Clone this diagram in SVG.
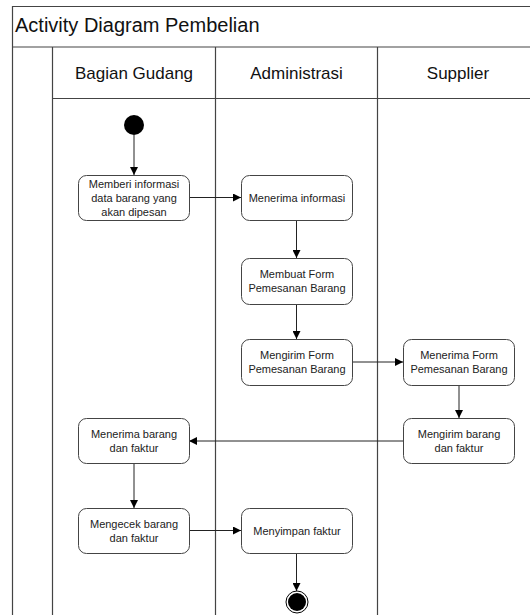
<svg xmlns="http://www.w3.org/2000/svg" width="530" height="615" viewBox="0 0 530 615">
<defs>
<style>
.frame{fill:none;stroke:#444;stroke-width:1.2}
.node rect{fill:#fff;stroke:#444;stroke-width:1}
.node text{font-family:"Liberation Sans",Arial,sans-serif;font-size:11px;fill:#222;text-anchor:middle}
.hdr{font-family:"Liberation Sans",Arial,sans-serif;font-size:17px;fill:#111;text-anchor:middle}
.title{font-family:"Liberation Sans",Arial,sans-serif;font-size:20px;fill:#111}
.conn line{stroke:#222;stroke-width:1;marker-end:url(#arr)}
</style>
<marker id="arr" viewBox="0 0 10 10" refX="10" refY="5" markerWidth="8" markerHeight="8" markerUnits="userSpaceOnUse" orient="auto">
<path d="M0,0 L10,5 L0,10 z" fill="#000"/>
</marker>
</defs>
<rect x="0" y="0" width="530" height="615" fill="#fff"/>
<g id="frame">
<path class="frame" d="M12.5,620 V6.5 H540"/>
<line class="frame" x1="12.5" y1="47" x2="540" y2="47"/>
<line class="frame" x1="52.5" y1="47" x2="52.5" y2="620"/>
<line class="frame" x1="52.5" y1="98.5" x2="540" y2="98.5"/>
<line class="frame" x1="215.5" y1="47" x2="215.5" y2="620"/>
<line class="frame" x1="377.5" y1="47" x2="377.5" y2="620"/>
<text class="title" x="15" y="32">Activity Diagram Pembelian</text>
<text class="hdr" x="134" y="79">Bagian Gudang</text>
<text class="hdr" x="296.5" y="79">Administrasi</text>
<text class="hdr" x="458" y="79">Supplier</text>
</g>
<g id="connectors" class="conn">
<line x1="134" y1="135" x2="134" y2="175"/>
<line x1="189" y1="197.5" x2="241" y2="197.5"/>
<line x1="296.5" y1="220" x2="296.5" y2="258"/>
<line x1="296.5" y1="304" x2="296.5" y2="339"/>
<line x1="352" y1="362" x2="403" y2="362"/>
<line x1="459" y1="385" x2="459" y2="418"/>
<line x1="403" y1="441" x2="189" y2="441"/>
<line x1="134" y1="464" x2="134" y2="508"/>
<line x1="189" y1="530.5" x2="241" y2="530.5"/>
<line x1="296.5" y1="553" x2="296.5" y2="591"/>
</g>
<g id="start"><circle cx="134" cy="125" r="10" fill="#000"/></g>
<g id="n1" class="node"><rect x="78.5" y="175.5" width="111" height="45" rx="8"/>
<text x="134" y="187.5">Memberi informasi</text><text x="134" y="201.5">data barang yang</text><text x="134" y="215.5">akan dipesan</text></g>
<g id="n2" class="node"><rect x="241.5" y="175.5" width="111" height="45" rx="8"/>
<text x="297" y="201.5">Menerima informasi</text></g>
<g id="n3" class="node"><rect x="241.5" y="258.5" width="111" height="46" rx="8"/>
<text x="297" y="278">Membuat Form</text><text x="297" y="292">Pemesanan Barang</text></g>
<g id="n4" class="node"><rect x="241.5" y="339.5" width="111" height="46" rx="8"/>
<text x="297" y="359">Mengirim Form</text><text x="297" y="373">Pemesanan Barang</text></g>
<g id="n5" class="node"><rect x="403.5" y="339.5" width="111" height="46" rx="8"/>
<text x="459" y="359">Menerima Form</text><text x="459" y="373">Pemesanan Barang</text></g>
<g id="n6" class="node"><rect x="403.5" y="418.5" width="111" height="45" rx="8"/>
<text x="459" y="438">Mengirim barang</text><text x="459" y="452">dan faktur</text></g>
<g id="n7" class="node"><rect x="78.5" y="418.5" width="111" height="45" rx="8"/>
<text x="134" y="438">Menerima barang</text><text x="134" y="452">dan faktur</text></g>
<g id="n8" class="node"><rect x="78.5" y="508.5" width="111" height="45" rx="8"/>
<text x="134" y="528">Mengecek barang</text><text x="134" y="542">dan faktur</text></g>
<g id="n9" class="node"><rect x="241.5" y="508.5" width="111" height="45" rx="8"/>
<text x="297" y="534.5">Menyimpan faktur</text></g>
<g id="end"><circle cx="297" cy="602" r="11" fill="#fff" stroke="#000" stroke-width="1"/><circle cx="297" cy="602" r="9" fill="#000"/></g>
</svg>
